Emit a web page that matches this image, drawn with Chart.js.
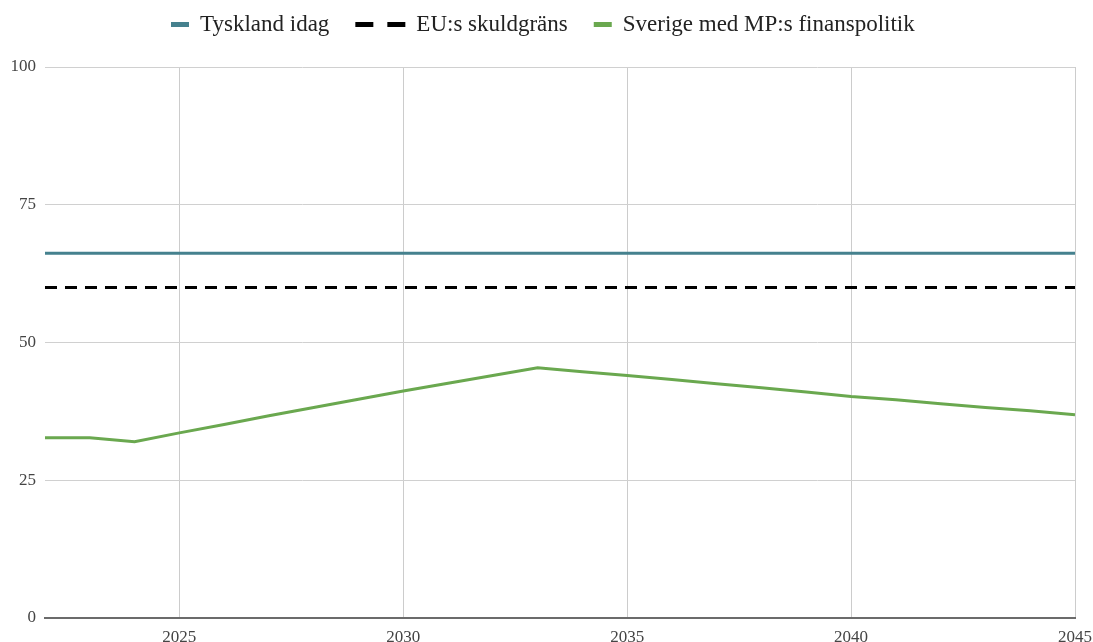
<!DOCTYPE html>
<html>
<head>
<meta charset="utf-8">
<script src="https://cdn.jsdelivr.net/npm/chart.js@4.4.1/dist/chart.umd.min.js"></script>
<style>html,body{margin:0;padding:0;background:#fff;}canvas{display:block;}</style>
</head>
<body>
<canvas id="c" width="1093" height="642"></canvas>
<script>
// ---- data ----
const seriesNames = ['Tyskland idag', 'EU:s skuldgräns', 'Sverige med MP:s finanspolitik'];
const tysklandYears = [2022, 2045];
const tysklandValues = [66.2, 66.2];
const euYears = [2022, 2045];
const euValues = [60, 60];
const sverigeYears = [2022, 2023, 2024, 2025, 2026, 2027, 2028, 2029, 2030, 2031, 2032, 2033,
                      2034, 2035, 2036, 2037, 2038, 2039, 2040, 2041, 2042, 2043, 2044, 2045];
const sverigeValues = [32.7, 32.7, 32.0, 33.6, 35.1, 36.7, 38.2, 39.7, 41.2, 42.6, 44.0, 45.4,
                       44.7, 44.0, 43.3, 42.5, 41.8, 41.0, 40.2, 39.6, 38.9, 38.2, 37.6, 36.9];
const xTickValues = [2025, 2030, 2035, 2040, 2045];
const yTickValues = [0, 25, 50, 75, 100];

const pts = (xs, ys) => xs.map((x, i) => ({x: x, y: ys[i]}));

const FONT = '"Liberation Serif", "Times New Roman", serif';

const legendPlugin = {
  id: 'topLegend',
  afterDraw(chart) {
    const ctx = chart.ctx;
    ctx.save();
    ctx.font = '23px ' + FONT;
    const gapText = 11, gapItem = 26;
    const items = chart.data.datasets.map(ds => ({
      text: ds.label, color: ds.borderColor,
      dashed: !!(ds.borderDash && ds.borderDash.length)
    }));
    let total = 0;
    items.forEach((it, i) => {
      it.mw = it.dashed ? 50 : 18;
      it.tw = ctx.measureText(it.text).width;
      total += it.mw + gapText + it.tw + (i ? gapItem : 0);
    });
    let x = Math.round(543 - total / 2);
    const cy = 24.5;
    items.forEach(it => {
      ctx.fillStyle = it.color;
      if (it.dashed) {
        ctx.fillRect(x, cy - 2.5, 18, 5);
        ctx.fillRect(x + 32, cy - 2.5, 18, 5);
      } else {
        ctx.fillRect(x, cy - 2.5, 18, 5);
      }
      x += it.mw + gapText;
      ctx.fillStyle = '#222';
      ctx.textBaseline = 'alphabetic';
      ctx.textAlign = 'left';
      ctx.fillText(it.text, x, 31);
      x += it.tw + gapItem;
    });
    ctx.restore();
  }
};

new Chart(document.getElementById('c'), {
  type: 'line',
  data: {
    datasets: [
      {label: seriesNames[0], data: pts(tysklandYears, tysklandValues), borderColor: '#45818e', backgroundColor: '#45818e', borderWidth: 3, pointRadius: 0, tension: 0},
      {label: seriesNames[1], data: pts(euYears, euValues), borderColor: '#000000', backgroundColor: '#000000', borderWidth: 3, borderDash: [12, 8], borderCapStyle: 'butt', pointRadius: 0, tension: 0},
      {label: seriesNames[2], data: pts(sverigeYears, sverigeValues), borderColor: '#6aa84f', backgroundColor: '#6aa84f', borderWidth: 3, pointRadius: 0, tension: 0}
    ]
  },
  options: {
    responsive: false,
    animation: false,
    devicePixelRatio: 1,
    layout: {padding: {top: 67, right: 18, left: 0, bottom: 0}},
    plugins: {legend: {display: false}, tooltip: {enabled: false}},
    scales: {
      x: {
        type: 'linear', min: 2022, max: 2045,
        afterBuildTicks: s => { s.ticks = xTickValues.map(v => ({value: v})); },
        afterFit: s => { s.height = 24; s.paddingRight = 0; s.paddingLeft = 0; },
        grid: {color: '#cccccc', lineWidth: 1, drawTicks: false},
        border: {display: true, color: '#6b6b6b', width: 2},
        ticks: {color: '#444', font: {family: FONT, size: 17}, padding: 9, maxRotation: 0, callback: v => String(v)}
      },
      y: {
        min: 0, max: 100,
        afterBuildTicks: s => { s.ticks = yTickValues.map(v => ({value: v})); },
        afterFit: s => { s.width = 45; s.paddingTop = 0; s.paddingBottom = 0; },
        grid: {color: '#d0d0d0', lineWidth: 1, drawTicks: false},
        border: {display: false},
        ticks: {color: '#444', font: {family: FONT, size: 17}, padding: 9, callback: v => String(v)}
      }
    }
  },
  plugins: [legendPlugin]
});
</script>
</body>
</html>
